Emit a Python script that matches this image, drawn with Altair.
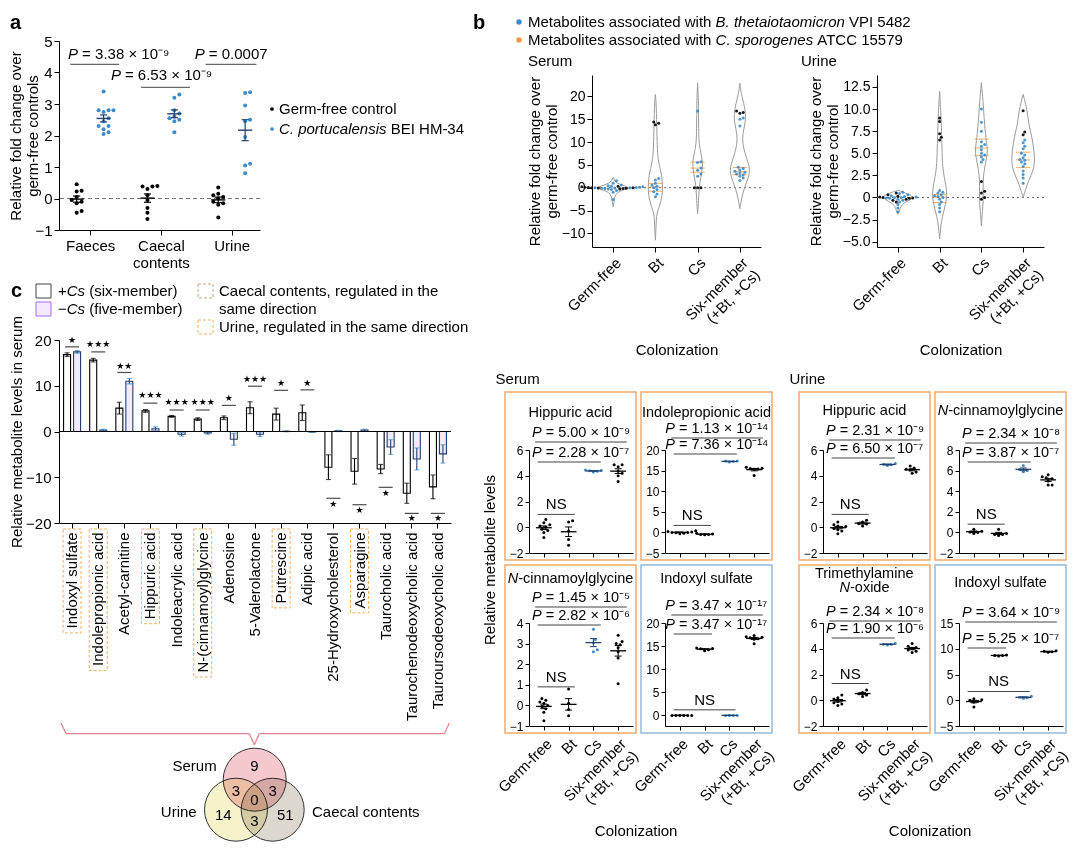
import altair as alt
import pandas as pd

FONT = "Liberation Sans"
ORANGE = "#f39b47"
BLUE = "#3d8bc9"
NAVY = "#23406e"
PURPLE = "#a46cf0"
PURPLE_FILL = "#f3ebfd"
BOX_ORANGE = "#f2aa6e"
BOX_BLUE = "#96bad8"
URINE_DASH = "#efb061"
CAECAL_DASH = "#c9a27e"
PINK = "#e8868f"

# ---------------- panel a data ----------------
A_GROUPS = ["Faeces", "Caecal contents", "Urine"]
A_GERMFREE = [
    [0.45, 0.25, 0.22, 0.05, -0.05, -0.1, -0.15, -0.4, -0.45],
    [0.4, 0.38, 0.38, 0.3, 0.1, -0.05, -0.3, -0.45, -0.65],
    [0.35, 0.15, 0.1, 0.05, 0.0, -0.1, -0.15, -0.2, -0.6],
]
A_CPORT = [
    [3.4, 2.8, 2.8, 2.8, 2.75, 2.55, 2.45, 2.3, 2.3, 2.2, 2.1, 2.05],
    [3.3, 3.2, 2.8, 2.7, 2.6, 2.55, 2.5, 2.45, 2.1],
    [3.37, 3.35, 2.95, 2.5, 2.45, 1.95, 1.1, 1.05, 0.8],
]
A_P_TEXT = ["3.38 × 10⁻⁹", "0.0007", "6.53 × 10⁻⁹"]

# ---------------- panel b violins ----------------
SERUM_VIOLIN_Y = [
    [2.3, 1.5, 1.0, 0.5, 0.0, -0.5, -1.0, -2.0, -3.0, -4.2],
    [20.4, 18.0, 12.0, 8.0, 6.0, 4.9, 3.5, 2.0, 0.2, -2.0, -4.2, -5.7, -8.0, -11.5],
    [22.9, 20.0, 12.0, 9.6, 7.5, 6.0, 4.5, 2.4, 0.2, -2.8, -5.7],
    [22.9, 20.6, 18.4, 16.2, 14.0, 11.8, 9.6, 7.4, 5.2, 3.8, 2.3, 0.1, -2.0, -4.6],
]
SERUM_VIOLIN_W = [
    [0, 1.5, 4, 10, 17, 10, 4, 1.5, 1, 0],
    [0, 1, 1.5, 2, 3, 4, 5.5, 6.7, 7.3, 6.7, 4, 1.2, 0.8, 0],
    [0, 0.8, 1, 1.5, 3.3, 4.7, 5, 3.3, 1.5, 1, 0],
    [0, 1.3, 4, 6, 5.3, 2.7, 2.7, 5.3, 8.7, 10, 8.7, 4.7, 2, 0],
]
URINE_VIOLIN_Y = [
    [0.83, 0.5, 0.2, 0.0, -0.3, -0.6, -1.0, -1.5, -1.9],
    [12.0, 9.0, 7.2, 5.0, 3.4, 2.25, 1.1, 0.2, -0.75, -1.9, -3.0, -4.7],
    [13.0, 10.9, 9.0, 7.2, 5.6, 4.9, 3.8, 2.6, 1.1, -0.4, -1.5, -3.2],
    [11.66, 9.8, 8.3, 6.8, 5.3, 4.1, 3.0, 1.9, 0.75, 0.0],
]
URINE_VIOLIN_W = [
    [0, 8, 14, 15, 12, 6, 3, 1.5, 0],
    [0, 1.5, 2, 2.5, 3, 4.7, 6.7, 7.3, 6, 3.3, 1.3, 0],
    [0, 1.7, 2.7, 4, 6, 6, 4, 2, 1.7, 2, 1, 0],
    [0, 4.3, 5.4, 9, 10.8, 11.8, 10, 5.4, 2, 0],
]
SERUM_PTS_CS = [
    [1.5, 1.0, 0.6, 0.4, 0.3, 0.2, 0.1, 0.05, 0, 0, -0.05, -0.1, -0.2, -0.3, -0.4, -0.6, -1.0, -2.6],
    [2.0, 1.7, 1.0, 0.6, 0.3, 0.0, -0.4, -0.9, -1.4, -2.0],
    [16.8, 5.7, 5.5, 4.3, 3.8, 3.0, 2.5],
    [15.3, 15.0, 13.5, 4.5, 4.2, 3.9, 3.6, 3.4, 3.2, 3.0, 2.8, 2.5, 2.1, 1.6],
]
SERUM_PTS_BT = [
    [0.3, 0.2, 0.1, 0.05, 0, 0, -0.05, -0.1, -0.2, -0.3],
    [14.4, 14.1, 13.8],
    [0.0, 0.0, 0.0],
    [16.8, 16.5, 16.3],
]
URINE_PTS_CS = [
    [0.6, 0.45, 0.3, 0.2, 0.1, 0.05, 0, 0, -0.05, -0.1, -0.2, -0.3, -0.5, -0.8, -1.2, -1.6],
    [0.8, 0.6, 0.5, 0.3, 0.2, 0.1, 0.0, -0.2, -0.5, -0.8, -1.2, -1.6],
    [10.0, 8.5, 7.5, 6.3, 6.0, 5.8, 5.4, 5.0, 4.8, 4.6, 4.3, 4.0],
    [6.5, 6.2, 5.8, 5.5, 5.0, 4.8, 4.5, 4.3, 4.2, 4.0, 3.8, 3.5, 3.0, 2.6, 2.2, 1.6],
]
URINE_PTS_BT = [
    [0.5, 0.3, 0.15, 0.05, 0, -0.05, -0.1, -0.2, -0.3, -0.5],
    [9.0, 8.6, 7.2, 6.8, 6.5],
    [1.8, 0.7, 0.5, 0.0, -0.2],
    [9.8, 7.4, 7.1],
]

# ---------------- panel b small dot plots ----------------
SP_GKEYS = ["GF", "Bt", "Cs", "Six"]
SER_HIPPURIC = [[0.6, 0.35, 0.2, 0.1, 0.0, -0.15, -0.25, -0.4, -0.8], [0.5, 0.4, -0.3, -0.95, -1.4],
                [4.45, 4.4, 4.38, 4.35, 4.3], [4.85, 4.85, 4.7, 4.35, 4.2, 4.0, 3.55]]
SER_INDOLEPROP = [[0.4, 0.2, 0.1, 0.0, 0.0, -0.1, -0.2, -0.3], [-0.2, -0.4, -0.5, -0.6, -0.5],
                  [17.3, 17.2, 17.3, 17.1], [15.8, 15.6, 15.5, 15.4, 15.3, 13.8]]
SER_CINNAMOYL = [[0.33, 0.25, 0.16, 0.1, 0.0, -0.05, -0.16, -0.33, -0.74], [0.8, 0.1, -0.2, -0.5],
                 [3.7, 3.2, 3.04, 2.7, 2.6], [3.4, 3.1, 3.0, 2.95, 2.8, 2.6, 2.3, 1.05]]
SER_INDOXYL = [[0, 0, 0, 0, 0, 0], [14.6, 14.5, 14.4, 14.2, 14.0], [0, 0, 0, 0],
               [17.3, 17.0, 16.9, 16.8, 16.6, 16.5, 15.5]]
URI_HIPPURIC = [[0.4, 0.2, 0.1, 0.05, 0.0, -0.1, -0.2, -0.3, -0.5], [0.55, 0.4, 0.3, 0.25, 0.1],
                [4.95, 4.9, 4.85, 4.8], [4.75, 4.6, 4.5, 4.45, 4.3, 4.2]]
URI_CINNAMOYL = [[0.3, 0.1, 0.05, 0.0, -0.1], [0.3, -0.1, -0.2, -0.2, -0.3],
                 [6.5, 6.1, 6.0, 5.9], [5.6, 5.4, 5.3, 5.2, 5.0, 4.6, 4.6]]
URI_TMAO = [[0.4, 0.2, 0.1, 0.0, -0.1, -0.2, -0.3, -0.4], [0.8, 0.6, 0.5, 0.4, 0.3],
            [4.4, 4.35, 4.35, 4.3], [4.4, 4.2, 4.1, 4.0, 3.9, 3.8, 3.7]]
URI_INDOXYL = [[0.3, 0.1, 0.0, -0.2, -0.4, -1.3], [8.8, 8.7, 8.7, 8.6],
               [0.8, 0.6, 0.5, 0.4], [9.6, 9.5, 9.4, 9.3]]
SP_VALUES = [SER_HIPPURIC, SER_INDOLEPROP, SER_CINNAMOYL, SER_INDOXYL,
             URI_HIPPURIC, URI_CINNAMOYL, URI_TMAO, URI_INDOXYL]
SP_TITLE_PARTS = [
    [[("Hippuric acid", False)]],
    [[("Indolepropionic acid", False)]],
    [[("N", True), ("-cinnamoylglycine", False)]],
    [[("Indoxyl sulfate", False)]],
    [[("Hippuric acid", False)]],
    [[("N", True), ("-cinnamoylglycine", False)]],
    [[("Trimethylamine", False)], [("N", True), ("-oxide", False)]],
    [[("Indoxyl sulfate", False)]],
]
SP_P1 = ["5.00 × 10⁻⁹", "1.13 × 10⁻¹⁴", "1.45 × 10⁻⁵", "3.47 × 10⁻¹⁷",
         "2.31 × 10⁻⁹", "2.34 × 10⁻⁸", "2.34 × 10⁻⁸", "3.64 × 10⁻⁹"]
SP_P2 = ["2.28 × 10⁻⁷", "7.36 × 10⁻¹⁴", "2.82 × 10⁻⁶", "3.47 × 10⁻¹⁷",
         "6.50 × 10⁻⁷", "3.87 × 10⁻⁷", "1.90 × 10⁻⁶", "5.25 × 10⁻⁷"]
SP_NS_Y = [1.0, 1.7, 0.9, 1.2, 1.0, 0.8, 1.3, 1.7]
SP_DOM = [(-2, 6), (-5, 20), (-1, 4), (-2.3, 20), (-2, 6), (-2, 8), (-2, 6), (-5, 15)]
SP_TICKS = [[-2, 0, 2, 4, 6], [-5, 0, 5, 10, 15, 20], [-1, 0, 1, 2, 3, 4], [0, 5, 10, 15, 20],
            [-2, 0, 2, 4, 6], [-2, 0, 2, 4, 6, 8], [-2, 0, 2, 4, 6], [-5, 0, 5, 10, 15]]
SP_P2_TO = [2, 2, 2, 1, 2, 2, 2, 1]
SP_NS_TO = [1, 1, 1, 2, 1, 1, 1, 2]
SP_BORDER = ["o", "o", "o", "b", "o", "o", "o", "b"]
SP_OFF = [(-37, -8, 12), (-37, -12, 4), (-44, -16, 2), (-44, -8, 11),
          (-39, -10, 8), (-39, -7, 12), (-42, -2, 15), (-40, -1, 25)]

# ---------------- panel c data ----------------
C_CATS = ["Indoxyl sulfate", "Indolepropionic acid", "Acetyl-carnitine", "Hippuric acid",
          "Indoleacrylic acid", "N-(cinnamoyl)glycine", "Adenosine", "5-Valerolactone",
          "Putrescine", "Adipic acid", "25-Hydroxycholesterol", "Asparagine",
          "Taurocholic acid", "Taurochenodeoxycholic acid", "Tauroursodeoxycholic acid"]
C_SIX = [16.8, 15.6, 5.1, 4.5, 3.3, 2.7, 3.0, 5.2, 3.8, 4.1, -7.8, -8.7, -8.2, -13.5, -12.1]
C_SIX_SEM = [0.4, 0.4, 1.3, 0.3, 0.2, 0.3, 0.4, 1.3, 1.3, 1.7, 2.7, 2.8, 1.0, 2.2, 2.6]
C_FIVE = [17.4, 0.3, 11.0, 0.6, -0.6, -0.3, -1.7, -0.6, 0.05, -0.1, 0.15, 0.3, -3.4, -6.0, -4.9]
C_FIVE_SEM = [0.3, 0.2, 0.6, 0.4, 0.4, 0.3, 1.3, 0.5, 0.1, 0.1, 0.1, 0.2, 1.6, 2.4, 2.0]
C_SIG = ["*", "***", "**", "***", "***", "***", "*", "***", "*", "*", "*", "*", "*", "*", "*"]
C_SIG_LINE = [18.5, 17.4, 12.9, 6.2, 4.7, 4.7, 5.7, 9.9, 9.0, 9.1, -14.6, -16.0, -12.2, -17.9, -17.9]
C_SIG_TEXT = [20.1, 19.2, 14.4, 7.9, 6.5, 6.5, 7.4, 11.5, 10.6, 10.7, -15.9, -17.2, -13.5, -19.0, -19.0]
C_URINE_BOXED = [True, True, False, True, False, True, False, False, True, False, False, True,
                 False, False, False]
VENN_SETS = ["Serum", "Urine", "Caecal contents"]
VENN_FILL = ["#f5c8ce", "#f6f2cb", "#dcd7cf"]
VENN_COUNTS = ["9", "3", "3", "0", "14", "51", "3"]

# ---------------- helpers ----------------
AW = {' ': 278, '!': 278, '(': 333, ')': 333, '+': 584, ',': 278, '-': 333, '.': 278, '/': 278,
      ':': 278, '=': 584, '×': 584, '−': 584,
      'A': 667, 'B': 667, 'C': 722, 'D': 722, 'E': 667, 'F': 611, 'G': 778, 'H': 722, 'I': 278,
      'J': 500, 'K': 667, 'L': 556, 'M': 833, 'N': 722, 'O': 778, 'P': 667, 'Q': 778, 'R': 722,
      'S': 667, 'T': 611, 'U': 722, 'V': 667, 'W': 944, 'X': 667, 'Y': 667, 'Z': 611,
      'a': 556, 'b': 556, 'c': 500, 'd': 556, 'e': 556, 'f': 278, 'g': 556, 'h': 556, 'i': 222,
      'j': 222, 'k': 500, 'l': 222, 'm': 833, 'n': 556, 'o': 556, 'p': 556, 'q': 556, 'r': 333,
      's': 500, 't': 278, 'u': 556, 'v': 500, 'w': 722, 'x': 500, 'y': 500, 'z': 500}
for _c in "0123456789":
    AW[_c] = 556
for _c in "⁰¹²³⁴⁵⁶⁷⁸⁹⁻":
    AW[_c] = 380


def tw(s, size):
    return sum(AW.get(c, 556) for c in s) * size / 1000.0


def one():
    return pd.DataFrame({"a": [0]})


def txt(t, x, y, size=15, align="left", italic=False, bold=False, font=FONT, color="black", angle=None):
    kw = dict(align=align, baseline="middle", fontSize=size, font=font, color=color)
    if italic:
        kw["fontStyle"] = "italic"
    if bold:
        kw["fontWeight"] = "bold"
    if angle is not None:
        kw["angle"] = angle
    return alt.Chart(pd.DataFrame({"t": [t]})).mark_text(**kw).encode(
        x=alt.value(x), y=alt.value(y), text="t:N")


def mixed(parts, x, y, size=15, center=False):
    total = sum(tw(t, size) for t, _ in parts)
    if center:
        x = x - total / 2.0
    out = []
    for t, it in parts:
        lead = len(t) - len(t.lstrip(" "))
        s = t.strip(" ")
        if s:
            out.append(txt(s, x + tw(" " * lead, size), y, size=size, italic=it))
        x += tw(t, size)
    return out


def dot(x, y, color, size=16):
    return alt.Chart(one()).mark_circle(size=size, color=color, opacity=1).encode(
        x=alt.value(x), y=alt.value(y))


def rect(x1, y1, x2, y2, fill, stroke, dash=None):
    kw = dict(fill=fill, stroke=stroke, strokeWidth=1)
    if dash:
        kw["strokeDash"] = dash
    return alt.Chart(one()).mark_rect(**kw).encode(
        x=alt.value(x1), x2=alt.value(x2), y=alt.value(y1), y2=alt.value(y2))


def seg(x1, y1, x2, y2, color, width=1.3):
    return alt.Chart(one()).mark_rule(color=color, strokeWidth=width).encode(
        x=alt.value(x1), x2=alt.value(x2), y=alt.value(y1), y2=alt.value(y2))


def spacer(w, h, extra=None):
    layers = [alt.Chart(one()).mark_point(opacity=0, size=1).encode(x=alt.value(0), y=alt.value(0))]
    if extra:
        layers += extra
    return alt.layer(*layers).properties(width=w, height=h)


def swarm(vals, ppu, d=4.0):
    step = d * 0.55
    placed = []
    res = [0.0] * len(vals)
    for i in sorted(range(len(vals)), key=lambda k: vals[k]):
        y = vals[i] * ppu
        k = 0
        found = None
        while found is None:
            for c in ([0.0] if k == 0 else [k * step, -k * step]):
                if all((c - px) ** 2 + (y - py) ** 2 >= d * d for px, py in placed):
                    found = c
                    break
            k += 1
        placed.append((found, y))
        res[i] = found
    return res


SIX_EXPR = ("datum.value == 0 ? 'Germ-free' : datum.value == 1 ? 'Bt' : "
            "datum.value == 2 ? 'Cs' : ['Six-member', '(+Bt, +Cs)']")

# ---------------- panel a ----------------
A_W, A_H = 201, 189
A_PPX, A_PPY = A_W / 2.84, A_H / 6.0
a_rows = []
for gi in range(3):
    for ser, vals, off in (("GF", A_GERMFREE[gi], -0.19), ("CP", A_CPORT[gi], 0.19)):
        for v, o in zip(vals, swarm(vals, A_PPY, d=4.5)):
            a_rows.append({"ser": ser, "c": gi + off, "x": gi + off + o / A_PPX, "y": v})
a_df = pd.DataFrame(a_rows)
a_xs = alt.Scale(domain=[-0.44, 2.4], nice=False, zero=False)
a_ys = alt.Scale(domain=[-1, 5], nice=False, zero=False)
a_xax = alt.Axis(values=[0, 1, 2], title=None, labelFontSize=15, tickSize=5, labelPadding=3,
                 labelOverlap=False,
                 labelExpr="datum.value == 0 ? 'Faeces' : datum.value == 1 ? ['Caecal', 'contents'] : 'Urine'")
a_yax = alt.Axis(values=[-1, 0, 1, 2, 3, 4, 5], title=["Relative fold change over", "germ-free controls"],
                 labelFontSize=15, titleFontSize=15, tickSize=5, labelPadding=2, titlePadding=-6)


def AX(f):
    return alt.X(f, scale=a_xs, axis=a_xax)


def AY(f):
    return alt.Y(f, scale=a_ys, axis=a_yax)


a_zero = alt.Chart(pd.DataFrame({"z": [0]})).mark_rule(color="#777", strokeDash=[4, 3]).encode(y=AY("z:Q"))
a_pts = alt.Chart(a_df).mark_circle(size=16, opacity=1).encode(
    x=AX("x:Q"), y=AY("y:Q"),
    color=alt.Color("ser:N", scale=alt.Scale(domain=["GF", "CP"], range=["black", BLUE]), legend=None))
a_sum = alt.Chart(a_df).transform_aggregate(
    m="mean(y)", se="stderr(y)", groupby=["ser", "c"]).transform_calculate(
    lo="datum.m - datum.se", hi="datum.m + datum.se",
    l1="datum.c - 0.1", r1="datum.c + 0.1", l2="datum.c - 0.05", r2="datum.c + 0.05")
a_stroke = alt.Stroke("ser:N", scale=alt.Scale(domain=["GF", "CP"], range=["black", NAVY]), legend=None)
a_mean = a_sum.mark_rule(strokeWidth=1.4).encode(x=AX("l1:Q"), x2="r1:Q", y=AY("m:Q"), stroke=a_stroke)
a_whisk = a_sum.mark_rule(strokeWidth=1.2).encode(x=AX("c:Q"), y=AY("lo:Q"), y2="hi:Q", stroke=a_stroke)
a_cap1 = a_sum.mark_rule(strokeWidth=1.2).encode(x=AX("l2:Q"), x2="r2:Q", y=AY("lo:Q"), stroke=a_stroke)
a_cap2 = a_sum.mark_rule(strokeWidth=1.2).encode(x=AX("l2:Q"), x2="r2:Q", y=AY("hi:Q"), stroke=a_stroke)
a_p = pd.DataFrame({"x1": [-0.28, 1.63, 0.72], "x2": [0.41, 2.35, 1.41], "yl": [4.26, 4.26, 3.53],
                    "xa": [-0.17, 1.62, 0.435], "yt": [4.58, 4.58, 3.93],
                    "t": ["= " + s for s in A_P_TEXT]})
a_prule = alt.Chart(a_p).mark_rule(color="#444").encode(x=AX("x1:Q"), x2="x2:Q", y=AY("yl:Q"))
a_pP = alt.Chart(a_p).mark_text(align="right", baseline="middle", fontSize=15, fontStyle="italic",
                                font=FONT).encode(x=AX("xa:Q"), y=AY("yt:Q"), text=alt.value("P"))
a_pT = alt.Chart(a_p).mark_text(align="left", baseline="middle", fontSize=15, font=FONT, dx=4).encode(
    x=AX("xa:Q"), y=AY("yt:Q"), text="t:N")
a_extra = [txt("a", -49, -18, size=20, bold=True),
           dot(213, 68, "black", 14), dot(213, 88, BLUE, 14),
           txt("Germ-free control", 220, 68),
           *mixed([("C. portucalensis", True), (" BEI HM-34", False)], 220, 88)]
a_chart = alt.layer(a_zero, a_pts, a_mean, a_whisk, a_cap1, a_cap2, a_prule, a_pP, a_pT,
                    *a_extra).properties(width=A_W, height=A_H)

# ---------------- panel c ----------------
C_W, C_H = 392, 183
C_PPY = C_H / 40.0
c_rows = []
for cat, m6, s6, m5, s5 in zip(C_CATS, C_SIX, C_SIX_SEM, C_FIVE, C_FIVE_SEM):
    c_rows.append({"cat": cat, "grp": "six", "m": m6, "se": s6})
    c_rows.append({"cat": cat, "grp": "five", "m": m5, "se": s5})
c_df = pd.DataFrame(c_rows)
c_xs = alt.Scale(domain=C_CATS, paddingInner=0.35, paddingOuter=0.175)
c_xax = alt.Axis(labelAngle=270, title=None, labelFontSize=15, tickSize=5, labelPadding=4, labelLimit=400,
                 labelOverlap=False)
c_ys = alt.Scale(domain=[-20, 20], nice=False)
c_yax = alt.Axis(values=[-20, -10, 0, 10, 20], title="Relative metabolite levels in serum",
                 labelFontSize=15, titleFontSize=15, tickSize=5, labelPadding=3, titlePadding=1)


def CX():
    return alt.X("cat:N", scale=c_xs, axis=c_xax, sort=C_CATS)


def CY(f):
    return alt.Y(f, scale=c_ys, axis=c_yax)


XO = alt.XOffset("grp:N", sort=["six", "five"], scale=alt.Scale(domain=["six", "five"], paddingInner=0.3))
c_strk = alt.Stroke("grp:N", scale=alt.Scale(domain=["six", "five"], range=["#333", PURPLE]), legend=None)
c_bars = alt.Chart(c_df).mark_bar(strokeWidth=1.1).encode(
    x=CX(), xOffset=XO, y=CY("m:Q"),
    fill=alt.Fill("grp:N", scale=alt.Scale(domain=["six", "five"], range=["white", PURPLE_FILL]), legend=None),
    stroke=c_strk)
c_base = alt.Chart(c_df).transform_calculate(lo="datum.m - datum.se", hi="datum.m + datum.se")
c_whisk = c_base.mark_rule(strokeWidth=1.1).encode(x=CX(), xOffset=XO, y=CY("lo:Q"), y2="hi:Q", stroke=c_strk)
c_col = alt.Color("grp:N", scale=alt.Scale(domain=["six", "five"], range=["#333", PURPLE]), legend=None)
c_cap1 = c_base.mark_tick(thickness=1.1, size=5).encode(x=CX(), xOffset=XO, y=CY("lo:Q"), color=c_col)
c_cap2 = c_base.mark_tick(thickness=1.1, size=5).encode(x=CX(), xOffset=XO, y=CY("hi:Q"), color=c_col)
c_zero = alt.Chart(pd.DataFrame({"z": [0]})).mark_rule(color="black", strokeWidth=1).encode(y=CY("z:Q"))
c_sig = pd.DataFrame({"cat": C_CATS, "t": [s.replace("*", "★") for s in C_SIG],
                      "yl": C_SIG_LINE, "yt": C_SIG_TEXT})
c_sigl = alt.Chart(c_sig).mark_tick(thickness=1.2, size=14, color="black").encode(x=CX(), y=CY("yl:Q"))
c_sigt = alt.Chart(c_sig).mark_text(fontSize=9, font="DejaVu Sans", baseline="middle").encode(
    x=CX(), y=CY("yt:Q"), text="t:N")
box_rows = []
for cat, boxed in zip(C_CATS, C_URINE_BOXED):
    if boxed:
        box_rows.append({"cat": cat, "y1": -20 - 6 / C_PPY, "y2": -20 - (14 + tw(cat, 15)) / C_PPY})
c_boxes = alt.Chart(pd.DataFrame(box_rows)).mark_bar(
    width=18, fill="transparent", stroke=URINE_DASH, strokeDash=[3, 2], strokeWidth=1).encode(
    x=CX(), y=CY("y1:Q"), y2="y2:Q")
c_leg = [
    txt("c", -48, -49, size=20, bold=True),
    rect(-23, -56, -8, -42, "white", "#444"),
    *mixed([("+", False), ("Cs", True), (" (six-member)", False)], -1, -49),
    rect(-23, -38, -8, -24, PURPLE_FILL, PURPLE),
    *mixed([("−", False), ("Cs", True), (" (five-member)", False)], -1, -31),
    rect(139, -56, 154, -42, "white", CAECAL_DASH, [3, 2]),
    txt("Caecal contents, regulated in the", 160, -49),
    txt("same direction", 160, -31),
    rect(139, -20, 154, -6, "white", URINE_DASH, [3, 2]),
    txt("Urine, regulated in the same direction", 160, -13),
]
brace = [seg(2, 383, 7, 393.7, PINK), seg(7, 393.7, 190.3, 393.7, PINK), seg(190.3, 393.7, 195.3, 404.7, PINK),
         seg(195.3, 404.7, 200.3, 393.7, PINK), seg(200.3, 393.7, 385.3, 393.7, PINK),
         seg(385.3, 393.7, 390.3, 383, PINK)]
VENN_CENTER = [(195.7, 439.7), (177.0, 469.7), (213.7, 469.7)]
VENN_COUNT_POS = [(195.3, 426.3), (177, 451.3), (213.7, 451.3), (195.3, 460.3),
                  (164.3, 475.3), (226.3, 475.3), (195.3, 481.3)]
venn = []
for (vx, vy), fc in zip(VENN_CENTER, VENN_FILL):
    venn.append(alt.Chart(one()).mark_point(shape="circle", filled=True, size=3969, fill=fc, stroke="#333",
                                            strokeWidth=1, opacity=1, blend="multiply").encode(
        x=alt.value(vx), y=alt.value(vy)))
for t, (vx, vy) in zip(VENN_COUNTS, VENN_COUNT_POS):
    venn.append(txt(t, vx, vy, align="center"))
venn += [txt("Serum", 157.7, 426.3, align="right"), txt("Urine", 137.7, 472.3, align="right"),
         txt("Caecal contents", 253, 472.3)]
c_chart = alt.layer(c_bars, c_whisk, c_cap1, c_cap2, c_zero, c_sigl, c_sigt, c_boxes,
                    *c_leg, *brace, *venn).properties(width=C_W, height=C_H)


# ---------------- panel b violins ----------------
def violin_chart(prof_y, prof_w, pts_c, pts_b, ydom, yticks, ylab_expr, width, label, label_x):
    H = 172
    ppx = width / 4.0
    ppy = H / (ydom[1] - ydom[0])
    vrows = []
    for gi in range(4):
        for v, w in zip(prof_y[gi], prof_w[gi]):
            vrows.append({"g": "%dL" % gi, "y": v, "x": gi - w / ppx})
            vrows.append({"g": "%dR" % gi, "y": v, "x": gi + w / ppx})
    prow = []
    for gi in range(4):
        allv = [(v, "C") for v in pts_c[gi]] + [(v, "B") for v in pts_b[gi]]
        offs = swarm([v for v, _ in allv], ppy, d=3.0)
        for (v, s), o in zip(allv, offs):
            prow.append({"gi": gi, "x": gi + o / ppx, "y": v, "s": s})
    pdf = pd.DataFrame(prow)
    xs = alt.Scale(domain=[-0.5, 3.5], nice=False, zero=False)
    xax = alt.Axis(values=[0, 1, 2, 3], labelExpr=SIX_EXPR, labelAngle=315, labelFontSize=15, tickSize=5,
                   title="Colonization", titleFontSize=15, titlePadding=8, labelPadding=3, labelOverlap=False)
    ys = alt.Scale(domain=list(ydom), nice=False, zero=False)
    ykw = dict(values=yticks, title=["Relative fold change over", "germ-free control"], labelFontSize=14,
               titleFontSize=15, tickSize=5, labelPadding=2, titlePadding=2, labelOverlap=False)
    if ylab_expr:
        ykw["labelExpr"] = ylab_expr
    yax = alt.Axis(**ykw)

    def VX(f):
        return alt.X(f, scale=xs, axis=xax)

    def VY(f):
        return alt.Y(f, scale=ys, axis=yax)

    outline = alt.Chart(pd.DataFrame(vrows)).mark_line(
        color="#9b9b9b", strokeWidth=1, interpolate="basis").encode(
        x=VX("x:Q"), y=VY("y:Q"), detail="g:N", order="y:Q")
    zero = alt.Chart(pd.DataFrame({"z": [0]})).mark_rule(color="#666", strokeDash=[2, 3]).encode(y=VY("z:Q"))
    pts = alt.Chart(pdf).mark_circle(size=9, opacity=0.9).encode(
        x=VX("x:Q"), y=VY("y:Q"),
        color=alt.Color("s:N", scale=alt.Scale(domain=["B", "C"], range=[BLUE, ORANGE]), legend=None))
    quart = alt.Chart(pdf).transform_filter("datum.s == 'C' && datum.gi > 0").transform_aggregate(
        q1="q1(y)", md="median(y)", q3="q3(y)", groupby=["gi"]).transform_fold(
        ["q1", "md", "q3"], as_=["k", "v"]).transform_calculate(
        xl="datum.gi - 0.17", xr="datum.gi + 0.17")
    qlines = quart.mark_rule(color=ORANGE, strokeWidth=1, opacity=0.8).encode(
        x=VX("xl:Q"), x2="xr:Q", y=VY("v:Q"))
    return alt.layer(zero, outline, qlines, pts, txt(label, label_x, -14)).properties(width=width, height=H)


serum_v = violin_chart(SERUM_VIOLIN_Y, SERUM_VIOLIN_W, SERUM_PTS_CS, SERUM_PTS_BT, (-13.0, 24.7),
                       [-10, -5, 0, 5, 10, 15, 20], None, 169, "Serum", -64)
urine_v = violin_chart(URINE_VIOLIN_Y, URINE_VIOLIN_W, URINE_PTS_CS, URINE_PTS_BT, (-5.6, 13.85),
                       [-5, -2.5, 0, 2.5, 5, 7.5, 10, 12.5],
                       "datum.value == 0 ? '0' : format(datum.value, '.1f')", 167, "Urine", -76)
b_leg = alt.layer(
    txt("b", 0, -18, size=20, bold=True),
    dot(46, -19, BLUE, 30), dot(46, -1, ORANGE, 30),
    *mixed([("Metabolites associated with ", False), ("B. thetaiotaomicron", True), (" VPI 5482", False)], 55, -19),
    *mixed([("Metabolites associated with ", False), ("C. sporogenes", True), (" ATCC 15579", False)], 55, -1),
).properties(width=450, height=3)


# ---------------- panel b small dot plots ----------------
SW, SH = 104, 103


def small_panel(i, bottom):
    W, H = SW, SH
    vals = SP_VALUES[i]
    ymin, ymax = SP_DOM[i]
    ppy = H / (ymax - ymin)
    ppx = W / 4.2
    rows = []
    for gi in range(4):
        for v, o in zip(vals[gi], swarm(vals[gi], ppy, d=3.6)):
            rows.append({"g": SP_GKEYS[gi], "c": gi, "x": gi + o / ppx, "y": v})
    df = pd.DataFrame(rows)
    xs = alt.Scale(domain=[-0.6, 3.6], nice=False, zero=False)
    if bottom:
        xax = alt.Axis(values=[0, 1, 2, 3], labelExpr=SIX_EXPR, labelAngle=315, labelFontSize=15, tickSize=4,
                       labelPadding=6, title=None, labelOverlap=False)
    else:
        xax = alt.Axis(values=[0, 1, 2, 3], labels=False, tickSize=4, title=None)
    ys = alt.Scale(domain=[ymin, ymax], nice=False, zero=False)
    yax = alt.Axis(values=SP_TICKS[i], labelFontSize=12, tickSize=4, labelPadding=2, title=None,
                   labelOverlap=False)

    def X(f):
        return alt.X(f, scale=xs, axis=xax)

    def Y(f):
        return alt.Y(f, scale=ys, axis=yax)

    color = BOX_ORANGE if SP_BORDER[i] == "o" else BOX_BLUE
    box = alt.Chart(pd.DataFrame({"x1": [-0.6 - 24 / ppx], "x2": [3.6 + 3 / ppx],
                                  "y1": [ymin - 7 / ppy], "y2": [ymax + 58 / ppy]})).mark_rect(
        fill="transparent", stroke=color, strokeWidth=1.5).encode(x=X("x1:Q"), x2="x2:Q", y=Y("y1:Q"), y2="y2:Q")
    pts = alt.Chart(df).mark_circle(size=9, opacity=1).encode(
        x=X("x:Q"), y=Y("y:Q"),
        color=alt.Color("g:N", scale=alt.Scale(domain=SP_GKEYS, range=["#9a9a9a", BLUE, ORANGE, "black"]),
                        legend=None))
    summ = alt.Chart(df).transform_aggregate(m="mean(y)", se="stderr(y)", groupby=["g", "c"]).transform_calculate(
        lo="datum.m - datum.se", hi="datum.m + datum.se",
        l1="datum.c - 0.32", r1="datum.c + 0.32", l2="datum.c - 0.14", r2="datum.c + 0.14")
    stroke = alt.Stroke("g:N", scale=alt.Scale(domain=SP_GKEYS, range=["#444", "#24456e", "#c7782f", "black"]),
                        legend=None)
    mline = summ.mark_rule(strokeWidth=1.3).encode(x=X("l1:Q"), x2="r1:Q", y=Y("m:Q"), stroke=stroke)
    wh = summ.mark_rule(strokeWidth=1).encode(x=X("c:Q"), y=Y("lo:Q"), y2="hi:Q", stroke=stroke)
    cl = summ.mark_rule(strokeWidth=1).encode(x=X("l2:Q"), x2="r2:Q", y=Y("lo:Q"), stroke=stroke)
    ch = summ.mark_rule(strokeWidth=1).encode(x=X("l2:Q"), x2="r2:Q", y=Y("hi:Q"), stroke=stroke)
    t_off, p1o, p2o = SP_OFF[i]

    def hline(x1, x2, ypx):
        return alt.Chart(pd.DataFrame({"a": [x1], "b": [x2]})).mark_rule(color="#444").encode(
            x=X("a:Q"), x2="b:Q", y=alt.value(ypx))

    ann = [hline(-0.35, 3.35, p1o), hline(-0.25, SP_P2_TO[i] + 0.3, p2o)]
    ann += mixed([("P", True), (" = " + SP_P1[i], False)], W / 2.0, p1o - 9, size=14.5, center=True)
    ann += mixed([("P", True), (" = " + SP_P2[i], False)], W / 2.0, p2o - 9, size=14.5, center=True)
    to = SP_NS_TO[i]
    nsdf = pd.DataFrame({"a": [-0.25], "b": [to + 0.25], "y": [SP_NS_Y[i]], "xm": [to / 2.0], "t": ["NS"]})
    ann.append(alt.Chart(nsdf).mark_rule(color="#444").encode(x=X("a:Q"), x2="b:Q", y=Y("y:Q")))
    ann.append(alt.Chart(nsdf).mark_text(fontSize=15, dy=-10, font=FONT, baseline="middle").encode(
        x=X("xm:Q"), y=Y("y:Q"), text="t:N"))
    lines = SP_TITLE_PARTS[i]
    n = len(lines)
    box_cx = (W - 21) / 2.0
    for k, parts in enumerate(lines):
        ann += mixed(parts, box_cx, t_off + (k - (n - 1) / 2.0) * 14.6, size=14.5, center=True)
    return alt.layer(box, pts, mline, wh, cl, ch, *ann).properties(width=W, height=H)


def TT(s, **k):
    return alt.TitleParams(s, fontSize=15, fontWeight="normal", font=FONT, color="black", **k)


sp = [small_panel(i, bottom=(i in (2, 3, 6, 7))) for i in range(8)]
ser_g = alt.vconcat(alt.hconcat(sp[0], sp[1], spacing=3),
                    alt.hconcat(sp[2], sp[3], spacing=-10,
                                title=TT("Colonization", orient="bottom", anchor="middle", offset=8)),
                    spacing=3, title=TT("Serum", anchor="start", offset=4))
uri_g = alt.vconcat(alt.hconcat(sp[4], sp[5], spacing=3),
                    alt.hconcat(sp[6], sp[7], spacing=-10,
                                title=TT("Colonization", orient="bottom", anchor="middle", offset=8)),
                    spacing=3, title=TT("Urine", anchor="start", offset=4))
title_sp = spacer(20, 200, [txt("Relative metabolite levels", 17, 110, align="center", angle=270)])
small = alt.hconcat(title_sp, alt.hconcat(ser_g, uri_g, spacing=12), spacing=-4)

vio = alt.hconcat(spacer(50, 172), alt.hconcat(serum_v, urine_v, spacing=38), spacing=4)

left = alt.vconcat(a_chart, c_chart, spacing=11)
right = alt.vconcat(alt.vconcat(b_leg, vio, spacing=6), small, spacing=14)

chart = alt.hconcat(left, right, spacing=3).properties(
    padding={"left": 0, "top": 5, "right": 0, "bottom": 0}).configure_view(
    strokeWidth=0, stroke="transparent").configure_axis(
    labelFont=FONT, titleFont=FONT, labelColor="black", titleColor="black", domainColor="black",
    tickColor="black", grid=False, titleFontWeight="normal", domainWidth=1, tickWidth=1).configure_title(
    font=FONT, fontWeight="normal", color="black", fontSize=15).configure_text(font=FONT)

chart.save("out.html", embed_options={"renderer": "svg", "actions": False})
